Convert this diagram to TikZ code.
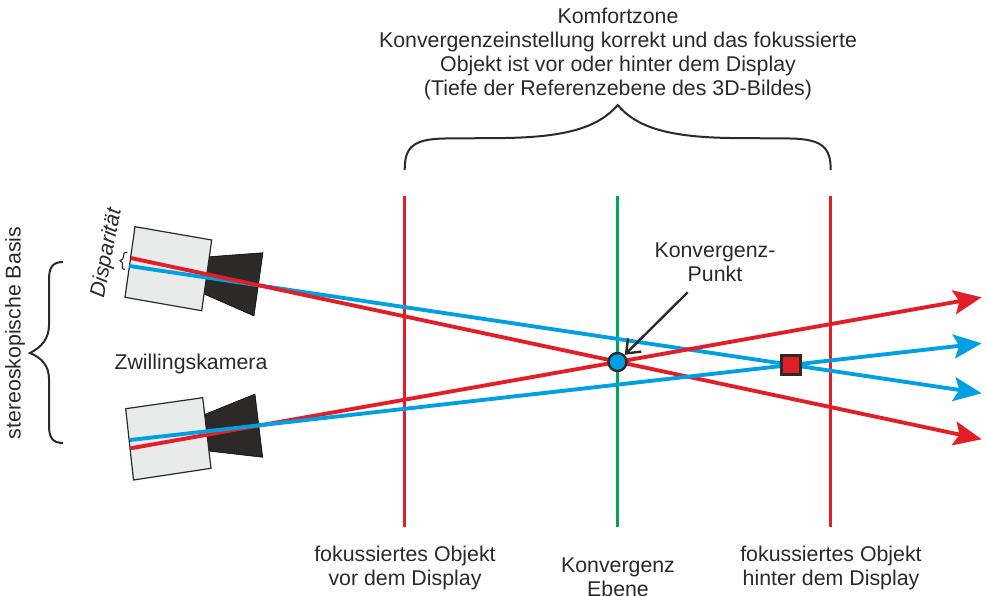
\documentclass[tikz,border=0pt]{standalone}
\usepackage{fontspec}
\setmainfont{Liberation Sans}
\usetikzlibrary{arrows.meta}
\definecolor{rayred}{RGB}{227,30,38}
\definecolor{rayblue}{RGB}{0,160,227}
\definecolor{planegreen}{RGB}{0,166,81}
\definecolor{inkdark}{RGB}{43,42,41}
\definecolor{bodygrey}{RGB}{233,235,235}
\tikzset{
  label/.style={inner sep=0.75pt,align=center,text=inkdark,font=\fontsize{16}{18}\selectfont},
  plane/.style={line width=2.9pt},
  ray/.style={line width=2.9pt,-{Stealth[length=21pt,width=18pt,inset=4pt]}},
  curly/.style={draw=inkdark,line width=1.5pt},
  body/.style={draw=inkdark,line width=0.9pt,fill=bodygrey},
  lens/.style={fill=inkdark}
}
\begin{document}
\begin{tikzpicture}[x=0.75pt,y=0.75pt,yscale=-1,xscale=1]
\useasboundingbox (0,0) rectangle (989,596);

%Camera top
\draw [lens] (209.3,256.7) -- (263,252.7) -- (254,316) -- (204,294) -- cycle ;
\draw [body] (135,226.7) -- (211.7,240) -- (201.7,310.7) -- (125,297.3) -- cycle ;
%Camera bottom
\draw [lens] (205,414.3) -- (255,394) -- (262.7,457.3) -- (208.3,451) -- cycle ;
\draw [body] (125.7,408.7) -- (202.7,397.7) -- (211,468.3) -- (133.5,480) -- cycle ;

%Planes
\coordinate (frontTop) at (404.5,196);
\coordinate (frontEnd) at (404.5,527);
\coordinate (convTop) at (617.5,196);
\coordinate (convEnd) at (617.5,527);
\coordinate (backTop) at (830.5,196);
\coordinate (backEnd) at (830.5,527);
\draw [plane,rayred] (frontTop) -- (frontEnd) ;
\draw [plane,planegreen] (convTop) -- (convEnd) ;
\draw [plane,rayred] (backTop) -- (backEnd) ;

%Rays
\coordinate (redTopStart) at (130.7,258);
\coordinate (redTopEnd) at (981.7,439.3);
\coordinate (blueTopStart) at (129.3,266);
\coordinate (blueTopEnd) at (981.7,393.3);
\coordinate (blueLowStart) at (130,440);
\coordinate (blueLowEnd) at (981.7,343.3);
\coordinate (redLowStart) at (130.7,448.3);
\coordinate (redLowEnd) at (981.7,297.3);
\draw [ray,rayblue] (blueTopStart) -- (blueTopEnd) ;
\draw [ray,rayred] (redTopStart) -- (redTopEnd) ;
\draw [ray,rayred] (redLowStart) -- (redLowEnd) ;
\draw [ray,rayblue] (blueLowStart) -- (blueLowEnd) ;

%Points
\node (convPoint) [circle,draw=inkdark,line width=1.8pt,fill=rayblue,minimum size=13.5pt,inner sep=0pt] at (617.5,362) {};
\node (focusPoint) [rectangle,draw=inkdark,line width=1.8pt,fill=rayred,minimum size=14pt,inner sep=0pt] at (791,365) {};

%Braces
\draw [curly] (404.7,170) .. controls (404.7,148) and (412,139) .. (445,138.5) -- (505,138) .. controls (565,137) and (598,128) .. (617.7,105) .. controls (637,128) and (670,137) .. (730,138) -- (790,138.5) .. controls (823,139) and (830.7,148) .. (830.7,170) ;
\draw [curly] (63,262) .. controls (52,262) and (49,268) .. (49,280) -- (49,325) .. controls (49,338) and (42,347) .. (30,353) .. controls (42,358) and (49,366) .. (49,379) -- (49,425) .. controls (49,437) and (52,443) .. (63,443) ;
\draw [draw=inkdark,line width=0.8pt] (127.3,252.3) .. controls (123,252) and (124,254) .. (123.5,257) .. controls (123,259) and (122,260) .. (120,260.7) .. controls (122,261.5) and (123,263) .. (122.5,265) .. controls (122,268) and (122,269.5) .. (125,269.3) ;

%Text
\node (zoneText) [label] at (618,54) {Komfortzone\\Konvergenzeinstellung korrekt und das fokussierte\\Objekt ist vor oder hinter dem Display\\(Tiefe der Referenzebene des 3D-Bildes)};
\node (convPointText) [label] at (715,262) {Konvergenz-\\Punkt};
\node (twinText) [label] at (191,364) {Zwillingskamera};
\node (baseText) [label,rotate=90] at (15,333) {stereoskopische Basis};
\node (dispText) [label,rotate=79,font=\fontsize{16}{18}\selectfont\itshape] at (107,253) {Disparität};
\node (frontText) [label] at (405,568) {fokussiertes Objekt\\vor dem Display};
\node (convText) [label] at (618,577) {Konvergenz\\Ebene};
\node (backText) [label] at (831,568) {fokussiertes Objekt\\hinter dem Display};

%Pointer
\coordinate (pointerStart) at (687.7,292.3);
\draw [draw=inkdark,line width=1.8pt,-{Straight Barb[length=9pt,width=14pt]}] (pointerStart) -- (convPoint) ;
\end{tikzpicture}
\end{document}
